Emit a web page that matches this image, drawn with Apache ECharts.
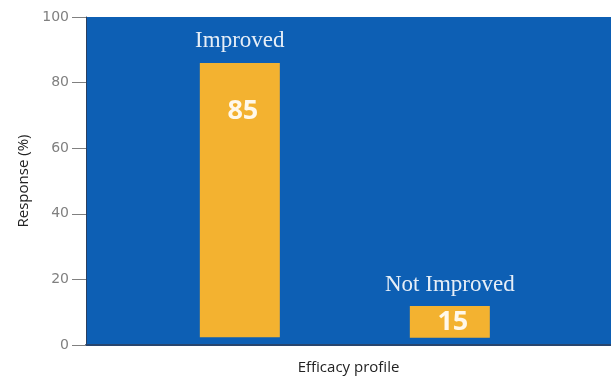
<!DOCTYPE html>
<html><head><meta charset="utf-8">
<script src="https://cdn.jsdelivr.net/npm/echarts@6/dist/echarts.min.js"></script>
<style>html,body{margin:0;padding:0;background:#fff}#c{width:611px;height:380px}</style>
</head><body><div id="c"></div>
<script>
var categories = ['Improved', 'Not Improved'];
var shownValues = ['85', '15'];
var xPositions = [29.3, 69.3];      // bar centres along the plot width (percent)
var barBase = [2.4, 2.2];           // bars start slightly above zero in the picture
var barTop = [86.0, 11.9];          // bar tops as drawn
var yTicks = [0, 20, 40, 60, 80, 100];

var barData = xPositions.map(function (x, i) { return [x, barBase[i], barTop[i]]; });

function renderBar(params, api) {
  var i = params.dataIndex;
  var p0 = api.coord([api.value(0), api.value(1)]);
  var p1 = api.coord([api.value(0), api.value(2)]);
  var w = 80;
  var valueY = i === 0 ? p1[1] + 48 : (p0[1] + p1[1]) / 2;
  return {
    type: 'group',
    children: [
      { type: 'rect', shape: { x: p0[0] - w / 2, y: p1[1], width: w, height: p0[1] - p1[1] },
        style: { fill: '#f3b230' } },
      { type: 'text', style: { text: categories[i], x: p0[0], y: p1[1] - 10,
        align: 'center', verticalAlign: 'bottom', fill: '#e6eef7',
        font: '23px "Liberation Serif"' } },
      { type: 'text', style: { text: shownValues[i], x: p0[0] + 3, y: valueY,
        align: 'center', verticalAlign: 'middle', fill: '#fff8ea',
        font: 'bold 27px "Open Sans"' } }
    ]
  };
}

var chart = echarts.init(document.getElementById('c'));
chart.setOption({
  animation: false,
  grid: { left: 86, right: 0, top: 17, bottom: 34, show: true, backgroundColor: '#0d5fb4', borderWidth: 0 },
  xAxis: {
    type: 'value', min: 0, max: 100,
    name: 'Efficacy profile', nameLocation: 'middle', nameGap: 15,
    nameTextStyle: { color: '#222', fontSize: 15, fontFamily: 'Open Sans' },
    axisLine: { show: true, lineStyle: { color: '#28456e', width: 2 } },
    axisTick: { show: false }, axisLabel: { show: false }, splitLine: { show: false }
  },
  yAxis: {
    type: 'value', min: yTicks[0], max: yTicks[yTicks.length - 1], interval: 20,
    name: 'Response (%)', nameLocation: 'middle', nameGap: 55,
    nameTextStyle: { color: '#222', fontSize: 15, fontFamily: 'Open Sans' },
    axisLine: { show: true, lineStyle: { color: '#2a3f5f', width: 1 } },
    axisTick: { show: true, length: 14, lineStyle: { color: '#808080' } },
    axisLabel: { color: '#808080', fontSize: 14, margin: 17, fontFamily: 'DejaVu Sans',
      formatter: function (v) { return yTicks.indexOf(v) >= 0 ? String(v) : ''; } },
    splitLine: { show: false }
  },
  series: [
    {
      type: 'custom', renderItem: renderBar, data: barData,
      encode: { x: 0, y: [1, 2] }, clip: false
    }
  ]
});
</script></body></html>
